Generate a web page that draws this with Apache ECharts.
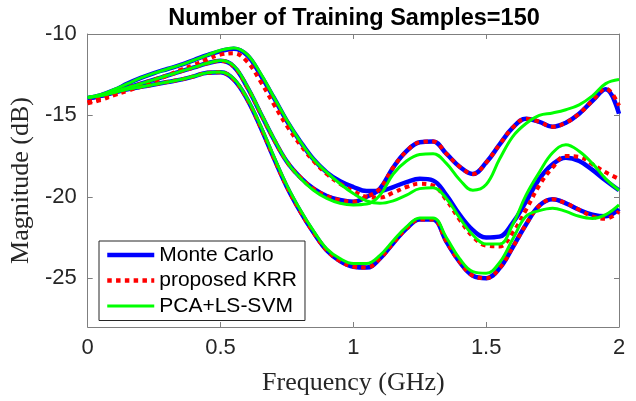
<!DOCTYPE html>
<html>
<head>
<meta charset="utf-8">
<script src="https://cdn.jsdelivr.net/npm/echarts@6/dist/echarts.min.js"></script>
<style>html,body{margin:0;padding:0;background:#fff}#c{width:636px;height:401px}</style>
</head>
<body>
<div id="c"></div>
<script>
const titleText = 'Number of Training Samples=150';
const xName = 'Frequency (GHz)';
const yName = 'Magnitude (dB)';
const legendNames = ['Monte Carlo', 'proposed KRR', 'PCA+LS-SVM'];
const xTicks = [0, 0.5, 1, 1.5, 2];
const yTicks = [-25, -20, -15, -10];

const freq = [0,0.05,0.1,0.15,0.2,0.25,0.3,0.35,0.4,0.45,0.5,0.55,0.6,0.65,0.7,0.75,0.8,0.85,0.9,0.95,1,1.05,1.1,1.15,1.2,1.25,1.3,1.35,1.4,1.45,1.5,1.55,1.6,1.65,1.7,1.75,1.8,1.85,1.9,1.95,2];

// Monte Carlo
const mc1 = [-13.95,-13.75,-13.45,-13.05,-12.7,-12.4,-12.15,-11.9,-11.6,-11.3,-11.05,-10.9,-11.3,-12.5,-13.9,-15.35,-16.6,-17.7,-18.5,-19.05,-19.4,-19.65,-19.65,-19.4,-19.1,-18.9,-19.0,-19.9,-21.1,-22.05,-22.5,-22.45,-21.6,-20.3,-18.9,-18.0,-17.6,-17.8,-18.35,-19.0,-19.6];
const mc2 = [-13.95,-13.8,-13.55,-13.3,-13.05,-12.8,-12.55,-12.3,-12.05,-11.8,-11.65,-12.0,-13.25,-14.85,-16.45,-17.85,-18.8,-19.5,-19.95,-20.2,-20.3,-20.0,-19.5,-18.2,-17.2,-16.65,-16.6,-17.35,-18.15,-18.6,-17.9,-16.8,-15.75,-15.2,-15.4,-15.7,-15.45,-14.9,-14.1,-13.4,-14.9];
const mc3 = [-13.95,-13.8,-13.6,-13.4,-13.25,-13.1,-12.95,-12.8,-12.6,-12.38,-12.35,-12.8,-14.0,-15.7,-17.6,-19.4,-20.9,-22.2,-23.3,-23.95,-24.3,-24.35,-23.8,-22.85,-21.95,-21.4,-21.4,-22.75,-24.0,-24.85,-25.0,-24.4,-23.1,-21.7,-20.55,-20.15,-20.4,-20.8,-21.1,-21.2,-20.75];

// proposed KRR
const krr1 = [-14.25,-14.05,-13.75,-13.5,-13.2,-12.9,-12.55,-12.2,-11.9,-11.55,-11.27,-11.18,-11.7,-12.9,-14.3,-15.65,-16.8,-17.8,-18.6,-19.2,-19.65,-20.0,-20.05,-19.75,-19.4,-19.2,-19.3,-20.2,-21.4,-22.45,-23.0,-23.05,-22.2,-20.8,-19.3,-18.2,-17.5,-17.55,-18.0,-18.5,-18.9];
const krr2 = [-14.2,-13.95,-13.65,-13.32,-13.05,-12.8,-12.55,-12.3,-12.05,-11.8,-11.65,-12.0,-13.25,-14.85,-16.45,-17.85,-18.8,-19.5,-19.95,-20.2,-20.3,-20.0,-19.5,-18.2,-17.2,-16.65,-16.6,-17.35,-18.15,-18.6,-17.9,-16.8,-15.75,-15.2,-15.4,-15.7,-15.45,-14.9,-14.1,-13.35,-14.4];
const krr3 = [-14.2,-13.95,-13.65,-13.42,-13.25,-13.1,-12.95,-12.8,-12.6,-12.38,-12.35,-12.8,-14.0,-15.7,-17.6,-19.4,-20.9,-22.2,-23.3,-23.95,-24.3,-24.35,-23.8,-22.85,-21.95,-21.4,-21.4,-22.75,-24.0,-24.85,-25.0,-24.4,-23.1,-21.7,-20.55,-20.15,-20.4,-20.8,-21.2,-21.35,-20.9];

// PCA+LS-SVM
const pca1 = [-13.9,-13.72,-13.4,-13.05,-12.7,-12.4,-12.15,-11.9,-11.6,-11.3,-11.0,-10.86,-11.25,-12.4,-13.85,-15.3,-16.6,-17.7,-18.5,-19.2,-19.8,-20.25,-20.4,-20.25,-19.9,-19.5,-19.45,-20.1,-21.3,-22.35,-22.9,-22.9,-21.7,-19.9,-18.5,-17.3,-16.8,-17.2,-17.95,-18.9,-19.6];
const pca2 = [-13.9,-13.78,-13.55,-13.3,-13.05,-12.8,-12.55,-12.3,-12.05,-11.8,-11.63,-11.95,-13.2,-14.8,-16.4,-17.85,-18.85,-19.6,-20.1,-20.4,-20.5,-20.45,-19.9,-18.6,-17.8,-17.4,-17.35,-17.95,-18.95,-19.6,-19.25,-17.7,-16.3,-15.5,-15.0,-14.85,-14.65,-14.35,-13.8,-13.05,-12.8];
const pca3 = [-13.9,-13.78,-13.6,-13.4,-13.25,-13.1,-12.95,-12.8,-12.6,-12.38,-12.33,-12.75,-13.95,-15.6,-17.5,-19.3,-20.8,-22.1,-23.2,-23.8,-24.1,-24.1,-23.6,-22.7,-21.85,-21.3,-21.3,-22.5,-23.8,-24.6,-24.7,-24.05,-22.6,-21.2,-20.85,-20.7,-20.9,-21.2,-21.33,-21.1,-20.5];

const pairs = arr => freq.map((f, i) => [f, arr[i]]);

const mcStyle = { color: '#0000FF', width: 4.5, type: 'solid', cap: 'butt', join: 'round' };
const krrStyle = { color: '#FF0000', width: 4, type: [4.5, 4.3], cap: 'butt', join: 'round' };
const pcaStyle = { color: '#00FF00', width: 3, type: 'solid', cap: 'butt', join: 'round' };

function mk(name, arr, ls, z) {
  return {
    name: name, type: 'line', data: pairs(arr), smooth: 0.4, showSymbol: false, symbol: 'none',
    lineStyle: ls, itemStyle: { color: ls.color }, z: z, silent: true, clip: true
  };
}

const series = [
  mk(legendNames[0], mc1, mcStyle, 2), mk(legendNames[0], mc2, mcStyle, 2), mk(legendNames[0], mc3, mcStyle, 2),
  mk(legendNames[1], krr1, krrStyle, 3), mk(legendNames[1], krr2, krrStyle, 3), mk(legendNames[1], krr3, krrStyle, 3),
  mk(legendNames[2], pca1, pcaStyle, 4), mk(legendNames[2], pca2, pcaStyle, 4), mk(legendNames[2], pca3, pcaStyle, 4)
];

const axisGray = '#7f7f7f';
const txt = '#262626';
const sans = 'Liberation Sans, Arial, Helvetica, sans-serif';
const serif = 'Liberation Serif, Times New Roman, serif';

const chart = echarts.init(document.getElementById('c'), null, { renderer: 'canvas' });
chart.setOption({
  animation: false,
  backgroundColor: '#ffffff',
  title: {
    text: titleText, left: 349, top: 2, textAlign: 'center',
    textStyle: { fontFamily: sans, fontWeight: 'bold', fontSize: 23.5, color: '#000' }
  },
  grid: { left: 87, right: 17, top: 34, bottom: 68, containLabel: false },
  legend: {
    data: [
      { name: legendNames[0], lineStyle: { width: 4.5 } },
      { name: legendNames[1], lineStyle: { width: 4.5 } },
      { name: legendNames[2], lineStyle: { width: 3 } }
    ],
    orient: 'vertical', left: 99, top: 241,
    itemWidth: 47, itemHeight: 14, itemGap: 0.5,
    padding: [1.5, 8, 2, 6],
    itemStyle: { opacity: 0 },
    backgroundColor: '#fff', borderColor: '#262626', borderWidth: 1, borderRadius: 0,
    textStyle: { fontFamily: sans, fontSize: 21, color: '#000', lineHeight: 25 },
    selectedMode: false, z: 10
  },
  xAxis: [{
    type: 'value', min: 0, max: 2, interval: 0.5, position: 'bottom',
    name: xName, nameLocation: 'middle', nameGap: 43,
    nameTextStyle: { fontFamily: serif, fontSize: 26, color: '#262626' },
    axisLine: { show: true, onZero: false, lineStyle: { color: axisGray, width: 1 } },
    axisTick: { show: true, inside: true, length: 5, lineStyle: { color: axisGray } },
    axisLabel: { fontFamily: sans, fontSize: 22, color: txt, margin: 10, customValues: xTicks },
    splitLine: { show: false }
  }, {
    type: 'value', min: 0, max: 2, interval: 0.5, position: 'top',
    axisLine: { show: true, onZero: false, lineStyle: { color: axisGray, width: 1 } },
    axisTick: { show: true, inside: true, length: 5, lineStyle: { color: axisGray } },
    axisLabel: { show: false }, splitLine: { show: false }
  }],
  yAxis: [{
    type: 'value', min: -28, max: -10, position: 'left',
    name: yName, nameLocation: 'middle', nameGap: 36, nameRotate: 90,
    nameTextStyle: { fontFamily: serif, fontSize: 26, color: '#262626' },
    axisLine: { show: true, onZero: false, lineStyle: { color: axisGray, width: 1 } },
    axisTick: { show: true, inside: true, length: 5, lineStyle: { color: axisGray }, customValues: yTicks },
    axisLabel: { fontFamily: sans, fontSize: 22, color: txt, margin: 11, customValues: yTicks },
    splitLine: { show: false }
  }, {
    type: 'value', min: -28, max: -10, position: 'right',
    axisLine: { show: true, onZero: false, lineStyle: { color: axisGray, width: 1 } },
    axisTick: { show: true, inside: true, length: 5, lineStyle: { color: axisGray }, customValues: yTicks },
    axisLabel: { show: false }, splitLine: { show: false }
  }],
  series: series
});
</script>
</body>
</html>
